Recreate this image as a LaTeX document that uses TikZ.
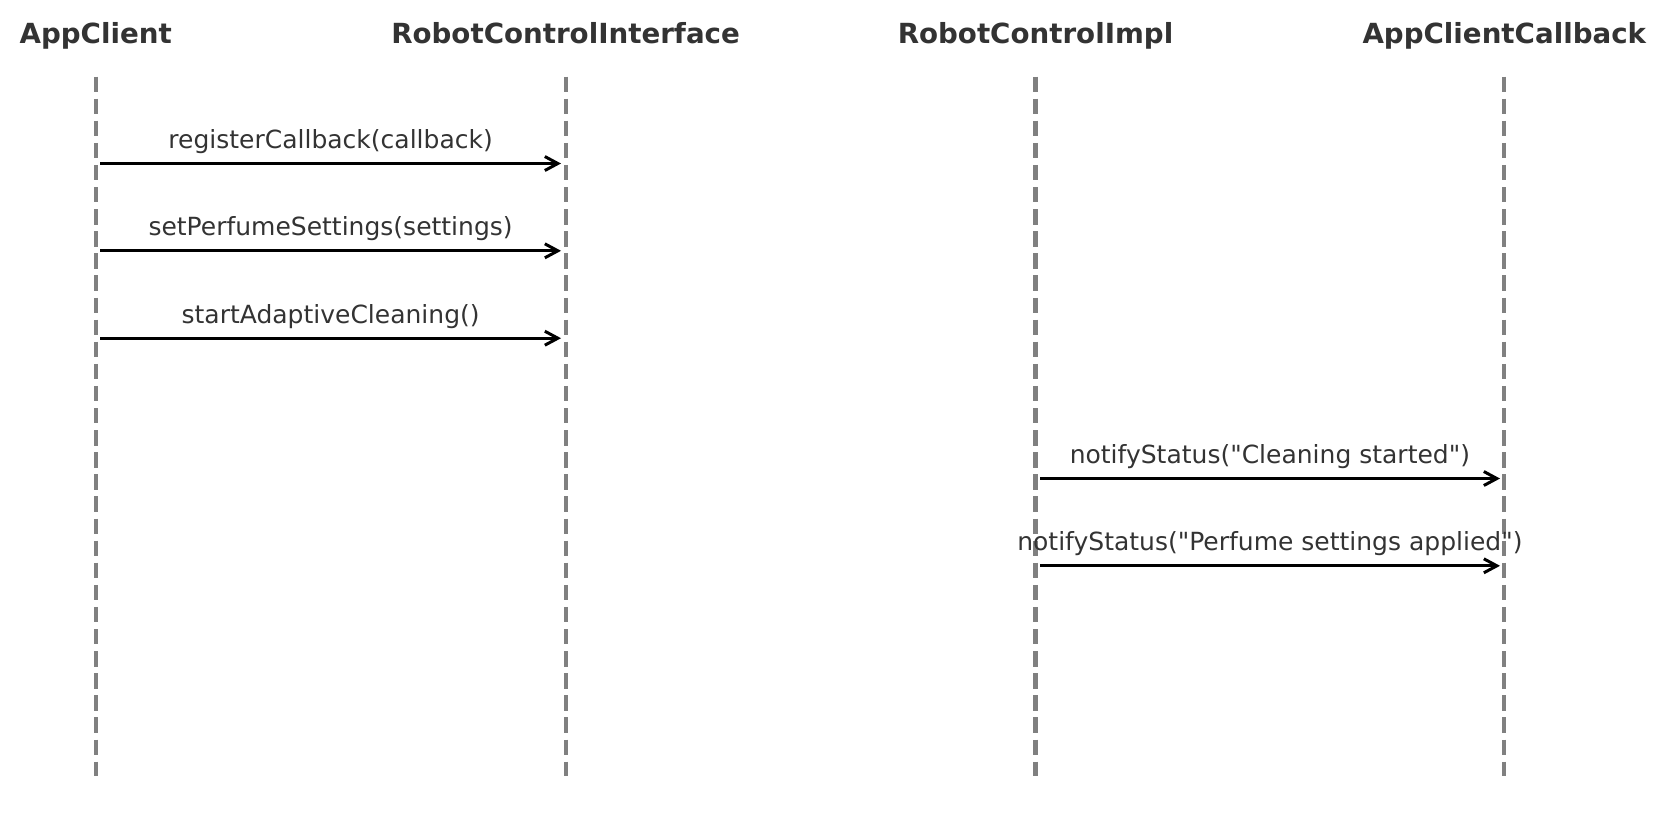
\documentclass[tikz,border=0pt]{standalone}
\usepackage{fontspec}
\setmainfont{DejaVu Sans}[Ligatures=TeXOff]
\usetikzlibrary{arrows.meta}
\definecolor{lifegray}{RGB}{128,128,128}
\definecolor{textdark}{RGB}{51,51,51}

\begin{document}
\begin{tikzpicture}[x=1pt,y=-1pt,
    actor/.style={font=\bfseries\fontsize{27.7}{32}\selectfont,text=textdark,anchor=base,inner sep=0pt},
    lifeline/.style={draw=lifegray,line width=4.2pt,dash pattern=on 15.4pt off 6.7pt},
    msg/.style={draw=black,line width=3pt,-{Straight Barb[length=13pt,width=14pt]}},
    msglabel/.style={font=\fontsize{25}{30}\selectfont,text=textdark,anchor=base,inner sep=0pt}]
    \useasboundingbox (0,0) rectangle (1667,831);

    % Participants
    \node[actor] (client) at (95.7,43) {AppClient};
    \node[actor] (iface) at (565.6,43) {RobotControlInterface};
    \node[actor] (impl) at (1035.5,43) {RobotControlImpl};
    \node[actor] (callback) at (1504.3,43) {AppClientCallback};

    % Lifelines
    \coordinate (clientTop) at (95.7,76.5);
    \coordinate (clientBot) at (95.7,776);
    \coordinate (ifaceTop) at (565.6,76.5);
    \coordinate (ifaceBot) at (565.6,776);
    \coordinate (implTop) at (1035.5,76.5);
    \coordinate (implBot) at (1035.5,776);
    \coordinate (callbackTop) at (1504.3,76.5);
    \coordinate (callbackBot) at (1504.3,776);
    \draw[lifeline] (clientTop) -- (clientBot);
    \draw[lifeline] (ifaceTop) -- (ifaceBot);
    \draw[lifeline] (implTop) -- (implBot);
    \draw[lifeline] (callbackTop) -- (callbackBot);

    % Message ends
    \coordinate (m1a) at (100,163.5);  \coordinate (m1b) at (561,163.5);
    \coordinate (m2a) at (100,250.8);  \coordinate (m2b) at (561,250.8);
    \coordinate (m3a) at (100,338.2);  \coordinate (m3b) at (561,338.2);
    \coordinate (m4a) at (1040,478.5); \coordinate (m4b) at (1500,478.5);
    \coordinate (m5a) at (1040,565.8); \coordinate (m5b) at (1500,565.8);

    % Messages
    \draw[msg] (m1a) -- (m1b);
    \draw[msg] (m2a) -- (m2b);
    \draw[msg] (m3a) -- (m3b);
    \draw[msg] (m4a) -- (m4b);
    \draw[msg] (m5a) -- (m5b);

    % Labels
    \node[msglabel] (l1) at (330.6,148.5) {registerCallback(callback)};
    \node[msglabel] (l2) at (330.6,235.8) {setPerfumeSettings(settings)};
    \node[msglabel] (l3) at (330.6,323.2) {startAdaptiveCleaning()};
    \node[msglabel] (l4) at (1269.9,463.5) {notifyStatus("Cleaning started")};
    \node[msglabel] (l5) at (1269.9,550.8) {notifyStatus("Perfume settings applied")};
\end{tikzpicture}
\end{document}
